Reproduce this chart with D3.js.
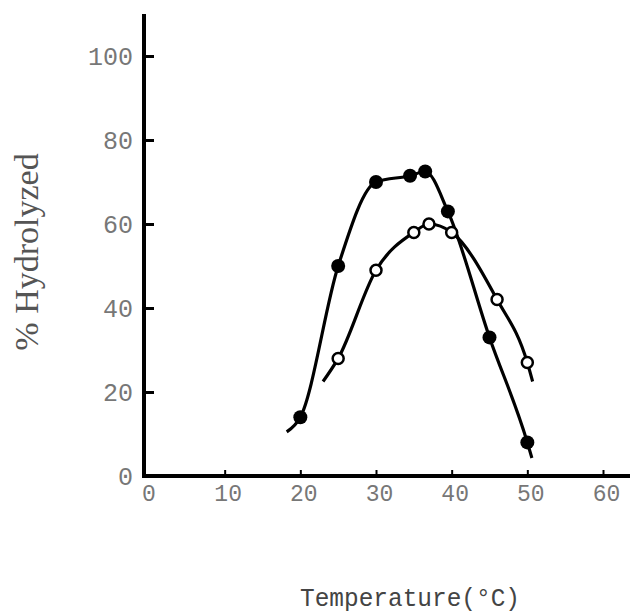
<!DOCTYPE html>
<html>
<head>
<meta charset="utf-8">
<script src="https://cdn.jsdelivr.net/npm/d3@7"></script>
<style>
  body { margin: 0; background: #fff; }
  svg { display: block; }
</style>
</head>
<body>
<div id="chart"></div>
<script>
// values (temperature in C, % hydrolyzed)
var xTicks = [0, 10, 20, 30, 40, 50, 60];
var yTicks = [0, 20, 40, 60, 80, 100];

var filledTemp = [20, 25, 30, 34.5, 36.5, 39.5, 45, 50];
var filledPct  = [14, 50, 70, 71.5, 72.5, 63, 33, 8];
// little tails drawn past the end points
var filledStart = [18.2, 10.5];
var filledEnd   = [50.6, 4.3];

var openTemp = [25, 30, 35, 37, 40, 46, 50];
var openPct  = [28, 49, 58, 60, 58, 42, 27];
var openStart = [23, 22.5];
var openEnd   = [50.7, 22.5];

var w = 630, h = 616;

var svg = d3.select('#chart')
  .append('svg')
    .attr('width', w)
    .attr('height', h);

var x = d3.scaleLinear().domain([0, 60]).range([149, 603]);
var y = d3.scaleLinear().domain([0, 100]).range([476, 56]);

var tickFont = '"Liberation Mono", monospace';

// axes
var yAxis = d3.axisLeft(y)
  .tickValues(yTicks)
  .tickSizeInner(-10)
  .tickSizeOuter(0)
  .tickPadding(11);

var xAxis = d3.axisBottom(x)
  .tickValues(xTicks.slice(1))
  .tickSizeInner(-6)
  .tickSizeOuter(0)
  .tickPadding(9);

var gy = svg.append('g')
  .attr('transform', 'translate(144,0)')
  .call(yAxis);
gy.select('.domain').remove();
gy.selectAll('.tick line').attr('stroke', '#000').attr('stroke-width', 3);
gy.selectAll('.tick text')
  .attr('font-family', tickFont)
  .attr('font-size', 25)
  .attr('fill', '#777');
gy.selectAll('.tick').filter(function(d) { return d == 0; }).select('line').remove();

var gx = svg.append('g')
  .attr('transform', 'translate(0,476)')
  .call(xAxis);
gx.select('.domain').remove();
gx.selectAll('.tick line').attr('stroke', '#000').attr('stroke-width', 2);
gx.selectAll('.tick text')
  .attr('font-family', tickFont)
  .attr('font-size', 23)
  .attr('fill', '#777')
  .attr('dx', 3);

// zero label under the corner
svg.append('text')
  .attr('x', x(0))
  .attr('y', 476 + 9)
  .attr('dy', '0.71em')
  .attr('text-anchor', 'middle')
  .attr('font-family', tickFont)
  .attr('font-size', 23)
  .attr('fill', '#777')
  .text(xTicks[0]);

// the thick axis lines
svg.append('line')
  .attr('x1', 144).attr('x2', 144)
  .attr('y1', 14).attr('y2', 478)
  .attr('stroke', '#000').attr('stroke-width', 4);
svg.append('line')
  .attr('x1', 142).attr('x2', 630)
  .attr('y1', 476).attr('y2', 476)
  .attr('stroke', '#000').attr('stroke-width', 4);

// curves
var line = d3.line()
  .x(function(d) { return x(d[0]); })
  .y(function(d) { return y(d[1]); })
  .curve(d3.curveMonotoneX);

function pts(t, p) {
  return t.map(function(v, i) { return [v, p[i]]; });
}

var filledPts = pts(filledTemp, filledPct);
var openPts = pts(openTemp, openPct);

svg.append('path')
  .datum([filledStart].concat(filledPts, [filledEnd]))
  .attr('d', line)
  .attr('fill', 'none')
  .attr('stroke', '#000')
  .attr('stroke-width', 3.2);

svg.append('path')
  .datum([openStart].concat(openPts, [openEnd]))
  .attr('d', line)
  .attr('fill', 'none')
  .attr('stroke', '#000')
  .attr('stroke-width', 3.2);

svg.selectAll('circle.open')
  .data(openPts)
  .enter().append('circle')
    .attr('class', 'open')
    .attr('cx', function(d) { return x(d[0]); })
    .attr('cy', function(d) { return y(d[1]); })
    .attr('r', 5.5)
    .attr('fill', '#fff')
    .attr('stroke', '#000')
    .attr('stroke-width', 2.5);

svg.selectAll('circle.filled')
  .data(filledPts)
  .enter().append('circle')
    .attr('class', 'filled')
    .attr('cx', function(d) { return x(d[0]); })
    .attr('cy', function(d) { return y(d[1]); })
    .attr('r', 7)
    .attr('fill', '#000');

// axis titles
svg.append('text')
  .attr('transform', 'translate(38,252) rotate(-90)')
  .attr('text-anchor', 'middle')
  .attr('font-family', '"Liberation Serif", serif')
  .attr('font-size', 34)
  .attr('fill', '#555')
  .text('% Hydrolyzed');

svg.append('text')
  .attr('x', 300)
  .attr('y', 606)
  .attr('font-family', tickFont)
  .attr('font-size', 26)
  .attr('fill', '#444')
  .attr('textLength', 220)
  .attr('lengthAdjust', 'spacingAndGlyphs')
  .text('Temperature(°C)');
</script>
</body>
</html>
